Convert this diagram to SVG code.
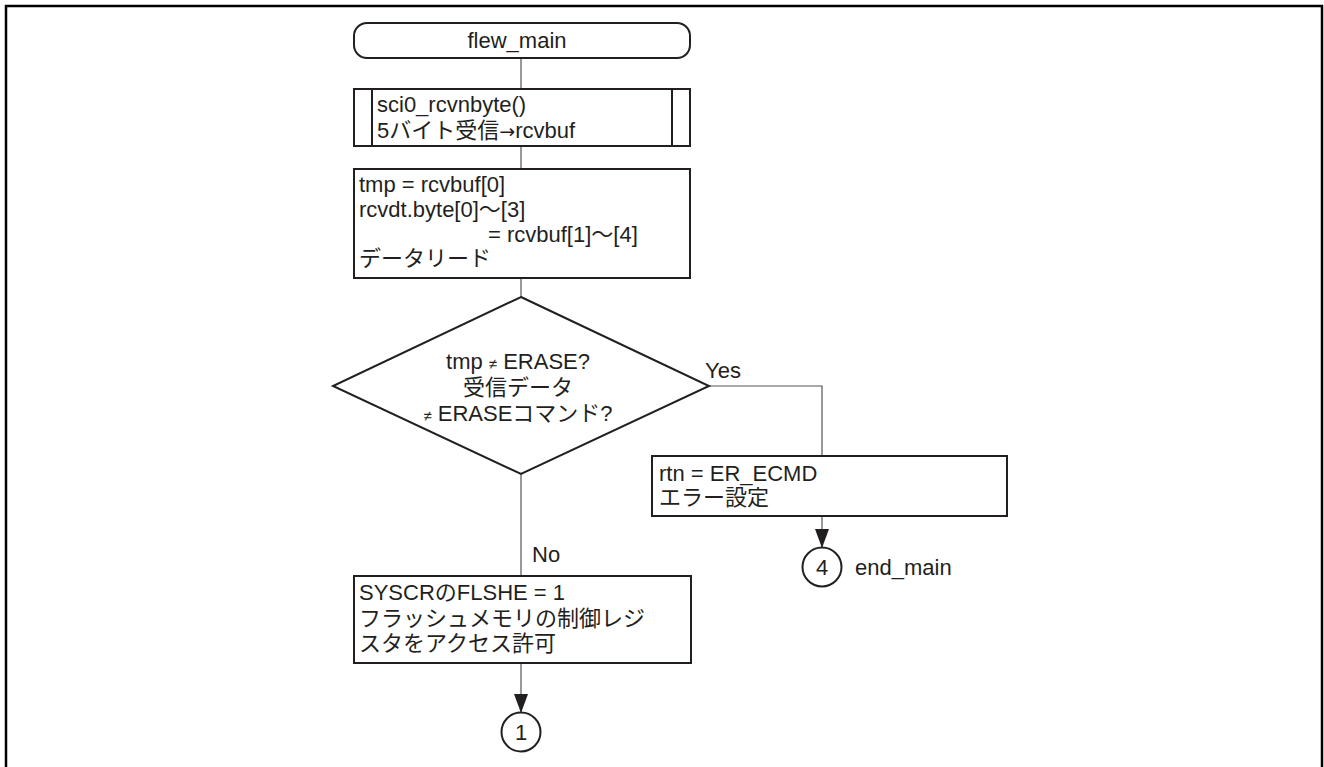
<svg xmlns="http://www.w3.org/2000/svg" width="1324" height="767" viewBox="0 0 1324 767">
<defs>
<style>
.n{fill:#fff;stroke:#231f20;stroke-width:2}
.c{fill:none;stroke:#555;stroke-width:1.2}
.t{font-family:"Liberation Sans","Noto Sans CJK JP",sans-serif;font-size:22px;fill:#231f20}
.m{text-anchor:middle}
.ar{font-family:"DejaVu Sans",sans-serif;font-size:19px}
</style>
<marker id="ah" viewBox="0 0 19 14" refX="19" refY="7" markerWidth="19" markerHeight="14" markerUnits="userSpaceOnUse" orient="auto">
<path d="M0,0 L19,7 L0,14 Z" fill="#231f20"/>
</marker>
</defs>
<rect width="1324" height="767" fill="#fff"/>
<rect x="6" y="6" width="1316" height="780" fill="none" stroke="#000" stroke-width="2.5"/>
<g id="connectors">
<line class="c" x1="521" y1="58" x2="521" y2="89"/>
<line class="c" x1="521" y1="146" x2="521" y2="169"/>
<line class="c" x1="521" y1="278" x2="521" y2="297"/>
<polyline class="c" points="709,386 822,386 822,456"/>
<line class="c" x1="521" y1="474" x2="521" y2="576"/>
<line class="c" x1="822" y1="516" x2="822" y2="548" marker-end="url(#ah)"/>
<line class="c" x1="521" y1="663" x2="521" y2="713" marker-end="url(#ah)"/>
<text class="t" x="705" y="378">Yes</text>
<text class="t" x="532" y="562">No</text>
</g>
<g id="start">
<rect class="n" x="354" y="23" width="336" height="35" rx="13"/>
<text class="t m" x="517" y="48">flew_main</text>
</g>
<g id="sub">
<rect class="n" x="354" y="89" width="336" height="57"/>
<line class="n" x1="372" y1="89" x2="372" y2="146"/>
<line class="n" x1="672" y1="89" x2="672" y2="146"/>
<text class="t" x="377" y="112">sci0_rcvnbyte()</text>
<text class="t" x="377" y="138">5バイト受信<tspan class="ar">→</tspan>rcvbuf</text>
</g>
<g id="read">
<rect class="n" x="354" y="169" width="336" height="109"/>
<text class="t" x="359" y="192">tmp = rcvbuf[0]</text>
<text class="t" x="359" y="217">rcvdt.byte[0]〜[3]</text>
<text class="t" x="488" y="242">= rcvbuf[1]〜[4]</text>
<text class="t" x="359" y="266">データリード</text>
</g>
<g id="decision">
<polygon class="n" points="521,297 709,386 521,474 333,386"/>
<text class="t m" x="518" y="369">tmp <tspan font-size="15">≠</tspan> ERASE?</text>
<text class="t m" x="518" y="395">受信データ</text>
<text class="t m" x="518" y="421"><tspan font-size="15">≠</tspan> ERASEコマンド?</text>
</g>
<g id="err">
<rect class="n" x="652" y="456" width="355" height="60"/>
<text class="t" x="659" y="481">rtn = ER_ECMD</text>
<text class="t" x="659" y="505">エラー設定</text>
</g>
<g id="c4">
<circle class="n" cx="822" cy="567" r="19.5"/>
<text class="t m" x="822" y="575">4</text>
<text class="t" x="855" y="575">end_main</text>
</g>
<g id="syscr">
<rect class="n" x="354" y="576" width="337" height="87"/>
<text class="t" x="359" y="600">SYSCRのFLSHE = 1</text>
<text class="t" x="359" y="626">フラッシュメモリの制御レジ</text>
<text class="t" x="359" y="651">スタをアクセス許可</text>
</g>
<g id="c1">
<circle class="n" cx="521" cy="732" r="19.5"/>
<text class="t m" x="521" y="740">1</text>
</g>
</svg>
